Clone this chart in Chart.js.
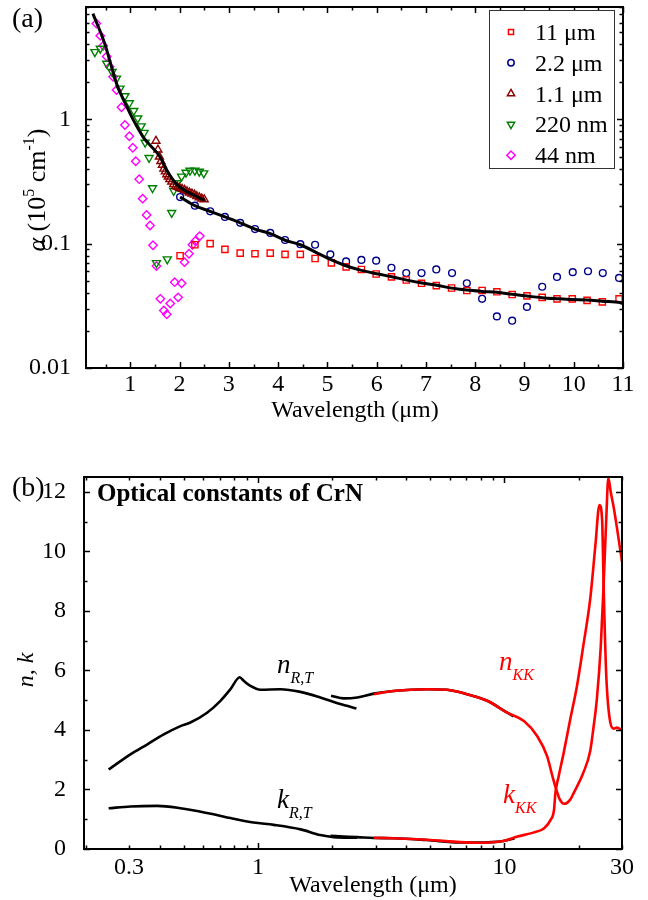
<!DOCTYPE html>
<html>
<head>
<meta charset="utf-8">
<script src="https://cdn.jsdelivr.net/npm/chart.js@4.4.0/dist/chart.umd.min.js"></script>
<style>
  body { margin: 0; background: #fff; }
  #wrap { position: relative; width: 648px; height: 900px; }
  canvas { position: absolute; left: 0; }
</style>
</head>
<body>
<div id="wrap">
  <canvas id="chartA" width="648" height="440" style="top:0"></canvas>
  <canvas id="chartB" width="648" height="460" style="top:440px"></canvas>
</div>
<script>
// ---------------- panel (a): absorption coefficient ----------------
// 11 um film (squares)
const sqX = [2.01, 2.31, 2.62, 2.92, 3.23, 3.53, 3.84, 4.14, 4.45, 4.75, 5.08, 5.38, 5.69, 5.99, 6.30,
             6.60, 6.91, 7.21, 7.52, 7.83, 8.14, 8.44, 8.75, 9.05, 9.36, 9.66, 9.97, 10.27, 10.58, 10.92];
const sqY = [0.080, 0.098, 0.100, 0.090, 0.084, 0.083, 0.084, 0.082, 0.082, 0.076, 0.070, 0.065, 0.062, 0.057, 0.054,
             0.051, 0.048, 0.046, 0.044, 0.042, 0.042, 0.041, 0.039, 0.038, 0.037, 0.036, 0.036, 0.035, 0.034, 0.036];
// 2.2 um film (circles)
const ciX = [2.01, 2.31, 2.62, 2.92, 3.23, 3.53, 3.84, 4.14, 4.45, 4.75, 5.06, 5.38, 5.69, 5.99, 6.30,
             6.60, 6.91, 7.21, 7.53, 7.83, 8.14, 8.44, 8.75, 9.05, 9.36, 9.66, 9.98, 10.29, 10.59, 10.92];
const ciY = [0.237, 0.202, 0.182, 0.164, 0.147, 0.131, 0.122, 0.107, 0.099, 0.098, 0.082, 0.072, 0.074, 0.073, 0.064,
             0.058, 0.058, 0.062, 0.058, 0.048, 0.036, 0.026, 0.024, 0.031, 0.045, 0.054, 0.059, 0.060, 0.058, 0.053];
// 1.1 um film (up triangles)
const trX = [1.52, 1.56, 1.59, 1.62, 1.65, 1.68, 1.71, 1.74, 1.77, 1.80, 1.84, 1.88, 1.92, 1.96, 2.00,
             2.05, 2.10, 2.15, 2.20, 2.25, 2.30, 2.35, 2.40, 2.45, 2.50];
const trY = [0.67, 0.57, 0.50, 0.46, 0.43, 0.40, 0.38, 0.36, 0.345, 0.33, 0.315, 0.30, 0.29, 0.285, 0.28,
             0.275, 0.27, 0.263, 0.257, 0.252, 0.247, 0.24, 0.235, 0.23, 0.227];
// 220 nm film (down triangles)
const dnX = [0.28, 0.39, 0.52, 0.63, 0.72, 0.79, 0.89, 0.98, 1.07, 1.15, 1.22, 1.28, 1.30, 1.38, 1.45,
             1.53, 1.75, 1.84, 1.88, 1.95, 2.04, 2.13, 2.21, 2.31, 2.40, 2.49];
const dnY = [3.48, 3.71, 2.81, 2.41, 2.13, 1.77, 1.54, 1.35, 1.17, 1.02, 0.88, 0.78, 0.65, 0.49, 0.28,
             0.070, 0.075, 0.177, 0.266, 0.307, 0.347, 0.373, 0.387, 0.387, 0.380, 0.369];
// 44 nm film (diamonds)
const dmX = [0.31, 0.39, 0.45, 0.52, 0.58, 0.65, 0.72, 0.82, 0.89, 0.98, 1.05, 1.11, 1.18, 1.25, 1.33,
             1.40, 1.46, 1.53, 1.61, 1.68, 1.74, 1.81, 1.90, 1.97, 2.04, 2.10, 2.19, 2.26, 2.32, 2.41];
const dmY = [5.9, 4.7, 3.9, 3.2, 2.64, 2.2, 1.72, 1.25, 0.90, 0.73, 0.59, 0.46, 0.33, 0.23, 0.17,
             0.14, 0.097, 0.066, 0.036, 0.029, 0.027, 0.033, 0.049, 0.037, 0.048, 0.071, 0.083, 0.098, 0.105, 0.115];
// fitted curves (black)
const fitShortX = [0.24, 0.48, 0.72, 0.96, 1.06, 1.26, 1.60, 1.74, 1.94, 2.13, 2.28, 2.48, 2.51];
const fitShortY = [7.07, 4.06, 1.94, 1.19, 0.99, 0.72, 0.50, 0.39, 0.30, 0.264, 0.247, 0.226, 0.225];
const fitLongX = [2.01, 2.31, 2.62, 2.92, 3.23, 3.53, 3.84, 4.14, 4.45, 4.85, 5.06, 5.36, 5.67, 6.00, 6.31, 6.61,
                  6.92, 7.22, 7.53, 7.83, 8.14, 8.44, 8.75, 9.05, 9.36, 9.66, 9.97, 10.27, 10.58, 10.95, 11.0];
const fitLongY = [0.237, 0.202, 0.182, 0.164, 0.147, 0.131, 0.1205, 0.1065, 0.098, 0.082, 0.0746, 0.0667, 0.0612,
                  0.0573, 0.0542, 0.0509, 0.0482, 0.0462, 0.0439, 0.0423, 0.0413, 0.0406, 0.0391, 0.0379, 0.0368,
                  0.0361, 0.0355, 0.0352, 0.0344, 0.0335, 0.0330];

const legendLabels = ['11 \u03bcm', '2.2 \u03bcm', '1.1 \u03bcm', '220 nm', '44 nm'];
const xTicksA = [1, 2, 3, 4, 5, 6, 7, 8, 9, 10, 11];
const yTicksA = [0.01, 0.1, 1];

// ---------------- panel (b): optical constants ----------------
const nRTX = [0.248, 0.304, 0.355, 0.415, 0.485, 0.532, 0.622, 0.705, 0.774, 0.844, 0.876, 0.932, 1.024, 1.234, 1.487, 1.792, 2.03, 2.30, 2.51];
const nRTY = [2.67, 3.18, 3.51, 3.85, 4.13, 4.25, 4.58, 4.98, 5.37, 5.77, 5.65, 5.48, 5.35, 5.37, 5.28, 5.09, 4.94, 4.81, 4.72];
const nRT2X = [1.98, 2.23, 2.53, 2.95, 3.55, 4.85, 5.85, 7.06, 8.52, 10.27, 10.9];
const nRT2Y = [5.15, 5.06, 5.09, 5.22, 5.31, 5.37, 5.35, 5.20, 4.98, 4.58, 4.46];
const kRTX = [0.248, 0.304, 0.39, 0.485, 0.622, 0.774, 0.96, 1.16, 1.49, 1.79, 2.03, 2.53];
const kRTY = [1.37, 1.43, 1.45, 1.37, 1.21, 1.04, 0.89, 0.81, 0.66, 0.47, 0.40, 0.38];
const kRT2X = [1.97, 2.23, 2.53, 2.95, 3.55, 4.85, 6.62, 7.76, 9.9, 11.0];
const kRT2Y = [0.44, 0.42, 0.40, 0.37, 0.36, 0.30, 0.22, 0.22, 0.27, 0.36];
const nKKX = [2.95, 3.55, 4.85, 5.85, 7.06, 8.52, 10.27, 12.0, 13.6, 14.9, 15.8, 16.8, 17.5, 18.5, 19.1,
              20.9, 22.3, 23.0, 23.7, 24.6, 25.3, 25.9, 26.4, 27.0, 27.8, 28.5, 30];
const nKKY = [5.20, 5.31, 5.37, 5.35, 5.20, 4.98, 4.58, 4.30, 3.79, 3.12, 2.33, 1.66, 1.52, 1.66, 1.88,
              2.56, 3.3, 4.1, 5.0, 6.8, 9.0, 11.1, 12.47, 12.0, 11.45, 10.89, 9.65];
const kKKX = [2.95, 3.55, 4.85, 6.62, 7.76, 9.9, 11.3, 13.1, 14.5, 15.4, 15.9, 16.1, 16.6, 17.4, 18.5,
              19.7, 20.9, 22.3, 23.4, 24.3, 24.9, 25.3, 25.9, 26.9, 27.8, 28.6, 30];
const kKKY = [0.38, 0.36, 0.31, 0.23, 0.21, 0.27, 0.42, 0.55, 0.70, 0.98, 1.32, 1.88, 2.44, 3.23, 4.36,
              5.48, 6.83, 8.41, 10.21, 11.56, 11.1, 8.64, 5.82, 4.25, 4.04, 4.08, 4.0];

const xTicksB = [0.3, 1, 10, 30];
const yTicksB = [0, 2, 4, 6, 8, 10, 12];

const SERIF = '"Liberation Serif", "Times New Roman", serif';

function pts(xs, ys) {
    return xs.map((x, i) => ({ x: x, y: ys[i] }));
}

// minor tick values of a log axis (2..9 x 10^k) between lo and hi
function logMinors(lo, hi) {
    const out = [];
    for (let e = -3; e <= 2; e++) {
        for (let m = 2; m <= 9; m++) {
            const v = m * Math.pow(10, e);
            if (v >= lo && v <= hi) out.push(v);
        }
    }
    return out;
}

// text made of runs: [text, font, dy, color]
function richText(ctx, x, y, runs, align) {
    let w = 0;
    runs.forEach(r => { ctx.font = r[1]; w += ctx.measureText(r[0]).width; });
    let cx = align === 'center' ? x - w / 2 : x;
    ctx.textAlign = 'left';
    ctx.textBaseline = 'alphabetic';
    runs.forEach(r => {
        ctx.font = r[1];
        ctx.fillStyle = r[3] || '#000';
        ctx.fillText(r[0], cx, y + (r[2] || 0));
        cx += ctx.measureText(r[0]).width;
    });
}

// marker shapes for the legend, same geometry as Chart.js point styles
function drawMarker(ctx, style, x, y, r, color) {
    ctx.save();
    ctx.strokeStyle = color;
    ctx.lineWidth = 1.5;
    ctx.beginPath();
    if (style === 'rect') {
        const s = Math.SQRT1_2 * r;
        ctx.rect(x - s, y - s, 2 * s, 2 * s);
    } else if (style === 'circle') {
        ctx.arc(x, y, r, 0, Math.PI * 2);
    } else if (style === 'rectRot') {
        ctx.moveTo(x - r, y); ctx.lineTo(x, y - r); ctx.lineTo(x + r, y); ctx.lineTo(x, y + r);
        ctx.closePath();
    } else {
        const rot = style === 'down' ? Math.PI : 0;
        for (let i = 0; i < 3; i++) {
            const a = rot + i * 2 * Math.PI / 3;
            const px = x + Math.sin(a) * r, py = y - Math.cos(a) * r;
            if (i === 0) ctx.moveTo(px, py); else ctx.lineTo(px, py);
        }
        ctx.closePath();
    }
    ctx.stroke();
    ctx.restore();
}

// frame and inward ticks on all four sides
const framePlugin = {
    id: 'frame',
    afterDatasetsDraw(chart, args, opts) {
        const { ctx, chartArea: a, scales } = chart;
        const xs = scales.x, ys = scales.y;
        ctx.save();
        ctx.strokeStyle = '#000';
        ctx.lineWidth = 1.5;
        ctx.beginPath();
        const xt = (v, len) => {
            const p = Math.round(xs.getPixelForValue(v)) + 0.5;
            ctx.moveTo(p, a.bottom); ctx.lineTo(p, a.bottom - len);
            ctx.moveTo(p, a.top); ctx.lineTo(p, a.top + len);
        };
        const yt = (v, len) => {
            const p = Math.round(ys.getPixelForValue(v)) + 0.5;
            ctx.moveTo(a.left, p); ctx.lineTo(a.left + len, p);
            ctx.moveTo(a.right, p); ctx.lineTo(a.right - len, p);
        };
        opts.xMajor.forEach(v => xt(v, 6));
        opts.xMinor.forEach(v => xt(v, 3.5));
        opts.yMajor.forEach(v => yt(v, 6));
        opts.yMinor.forEach(v => yt(v, 3.5));
        ctx.stroke();
        ctx.lineWidth = 2;
        ctx.strokeRect(a.left, a.top, a.right - a.left, a.bottom - a.top);
        ctx.restore();
    }
};

function fixedAxis(size, vertical) {
    return function (s) {
        if (vertical) s.width = size; else s.height = size;
        s.paddingTop = 0; s.paddingBottom = 0; s.paddingLeft = 0; s.paddingRight = 0;
    };
}

function setTicks(values) {
    return function (s) { s.ticks = values.map(v => ({ value: v })); };
}

function markerSet(label, xs, ys, style, color, r, rot) {
    return {
        label: label, data: pts(xs, ys), showLine: false,
        pointStyle: style, pointRotation: rot || 0, pointRadius: r,
        pointBorderColor: color, pointBackgroundColor: 'rgba(0,0,0,0)', pointBorderWidth: 1.4,
        borderColor: color, backgroundColor: 'rgba(0,0,0,0)', order: 2
    };
}

function lineSet(xs, ys, color, width, order) {
    return {
        data: pts(xs, ys), showLine: true, pointRadius: 0, borderColor: color,
        borderWidth: width, cubicInterpolationMode: 'monotone', fill: false, order: order
    };
}

// ---------------- chart (a) ----------------
const legendA = [
    ['rect', '#ff0000', 3.6], ['circle', '#00008b', 3.2], ['triangle', '#8b0000', 4.2],
    ['down', '#008000', 4.2], ['rectRot', '#ff00ff', 4.2]
];

const extrasA = {
    id: 'extrasA',
    afterDraw(chart) {
        const ctx = chart.ctx;
        ctx.save();
        richText(ctx, 12, 27, [['(a)', '28px ' + SERIF]]);
        richText(ctx, 355, 417, [['Wavelength (\u03bcm)', '24px ' + SERIF]], 'center');
        // y title, rotated
        ctx.save();
        ctx.translate(45, 190);
        ctx.rotate(-Math.PI / 2);
        richText(ctx, 0, 0, [
            ['\u03b1', 'italic 26px ' + SERIF], [' (10', '26px ' + SERIF], ['5', '16px ' + SERIF, -11],
            [' cm', '26px ' + SERIF], ['-1', '16px ' + SERIF, -11], [')', '26px ' + SERIF]
        ], 'center');
        ctx.restore();
        // legend box
        ctx.fillStyle = '#fff';
        ctx.fillRect(489, 10, 125, 158);
        ctx.strokeStyle = '#333';
        ctx.lineWidth = 1;
        ctx.strokeRect(489.5, 10.5, 125, 158);
        legendA.forEach((m, i) => {
            const y = 32 + i * 30.8;
            drawMarker(ctx, m[0], 511, y, m[2], m[1]);
            richText(ctx, 535, y + 8, [[legendLabels[i], '24px ' + SERIF]]);
        });
        ctx.restore();
    }
};

new Chart(document.getElementById('chartA'), {
    type: 'scatter',
    data: {
        datasets: [
            lineSet(fitShortX, fitShortY, '#000', 3, 0),
            lineSet(fitLongX, fitLongY, '#000', 3, 0),
            markerSet(legendLabels[0], sqX, sqY, 'rect', '#ff0000', 4.4),
            markerSet(legendLabels[1], ciX, ciY, 'circle', '#00008b', 3.4),
            markerSet(legendLabels[2], trX, trY, 'triangle', '#8b0000', 4.6),
            markerSet(legendLabels[3], dnX, dnY, 'triangle', '#008000', 4.6, 180),
            markerSet(legendLabels[4], dmX, dmY, 'rectRot', '#ff00ff', 4.2)
        ]
    },
    options: {
        responsive: false,
        animation: false,
        layout: { padding: { left: 0, top: 7, right: 25, bottom: 0 } },
        plugins: {
            legend: { display: false },
            tooltip: { enabled: false },
            frame: {
                xMajor: xTicksA,
                xMinor: [0.5, 1.5, 2.5, 3.5, 4.5, 5.5, 6.5, 7.5, 8.5, 9.5, 10.5],
                yMajor: yTicksA,
                yMinor: logMinors(0.01, 8)
            }
        },
        scales: {
            x: {
                type: 'linear', min: 0.1, max: 11,
                grid: { display: false }, border: { display: false },
                afterBuildTicks: setTicks(xTicksA),
                afterFit: fixedAxis(72, false),
                ticks: { color: '#000', font: { family: SERIF, size: 24 }, padding: -6,
                         maxRotation: 0, autoSkip: false, callback: v => String(v) }
            },
            y: {
                type: 'logarithmic', min: 0.01, max: 8,
                grid: { display: false }, border: { display: false },
                afterBuildTicks: setTicks(yTicksA),
                afterFit: fixedAxis(86, true),
                ticks: { color: '#000', font: { family: SERIF, size: 24 }, padding: 7,
                         autoSkip: false, callback: v => String(v) }
            }
        }
    },
    plugins: [framePlugin, extrasA]
});

// ---------------- chart (b) ----------------
const extrasB = {
    id: 'extrasB',
    afterDraw(chart) {
        const ctx = chart.ctx;
        ctx.save();
        richText(ctx, 12, 56, [['(b)', '28px ' + SERIF]]);
        richText(ctx, 97, 61, [['Optical constants of CrN', 'bold 25px ' + SERIF]]);
        richText(ctx, 373, 452, [['Wavelength (\u03bcm)', '24px ' + SERIF]], 'center');
        ctx.save();
        ctx.translate(33, 230);
        ctx.rotate(-Math.PI / 2);
        richText(ctx, 0, 0, [['n, k', 'italic 24px ' + SERIF]], 'center');
        ctx.restore();
        const red = '#ff0000';
        richText(ctx, 277, 233, [['n', 'italic 27px ' + SERIF], ['R,T', 'italic 16px ' + SERIF, 10]]);
        richText(ctx, 277, 368, [['k', 'italic 27px ' + SERIF], ['R,T', 'italic 16px ' + SERIF, 10]]);
        richText(ctx, 499, 230, [['n', 'italic 27px ' + SERIF, 0, red], ['KK', 'italic 16px ' + SERIF, 10, red]]);
        richText(ctx, 503, 363, [['k', 'italic 27px ' + SERIF, 0, red], ['KK', 'italic 16px ' + SERIF, 10, red]]);
        ctx.restore();
    }
};

new Chart(document.getElementById('chartB'), {
    type: 'scatter',
    data: {
        datasets: [
            lineSet(nKKX, nKKY, '#ff0000', 2.6, 0),
            lineSet(kKKX, kKKY, '#ff0000', 2.6, 0),
            lineSet(nRTX, nRTY, '#000', 2.6, 1),
            lineSet(nRT2X, nRT2Y, '#000', 2.6, 1),
            lineSet(kRTX, kRTY, '#000', 2.6, 1),
            lineSet(kRT2X, kRT2Y, '#000', 2.6, 1)
        ]
    },
    options: {
        responsive: false,
        animation: false,
        layout: { padding: { left: 0, top: 37, right: 26, bottom: 0 } },
        plugins: {
            legend: { display: false },
            tooltip: { enabled: false },
            frame: {
                xMajor: [1, 10],
                xMinor: logMinors(0.2, 30),
                yMajor: yTicksB,
                yMinor: [1, 3, 5, 7, 9, 11]
            }
        },
        scales: {
            x: {
                type: 'logarithmic', min: 0.197, max: 30,
                grid: { display: false }, border: { display: false },
                afterBuildTicks: setTicks(xTicksB),
                afterFit: fixedAxis(51, false),
                ticks: { color: '#000', font: { family: SERIF, size: 24 }, padding: -4,
                         maxRotation: 0, autoSkip: false, callback: v => String(v) }
            },
            y: {
                type: 'linear', min: 0, max: 12.5,
                grid: { display: false }, border: { display: false },
                afterBuildTicks: setTicks(yTicksB),
                afterFit: fixedAxis(84, true),
                ticks: { color: '#000', font: { family: SERIF, size: 24 }, padding: 10,
                         autoSkip: false, callback: v => String(v) }
            }
        }
    },
    plugins: [framePlugin, extrasB]
});
</script>
</body>
</html>
